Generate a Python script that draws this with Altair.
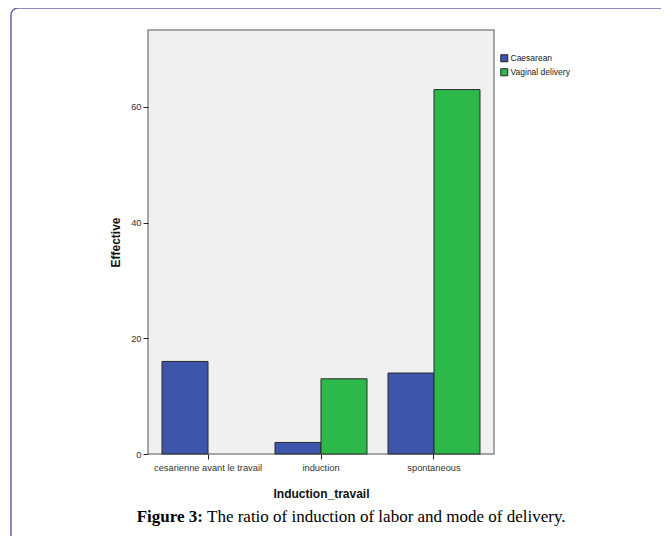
import altair as alt
import pandas as pd

categories = ["cesarienne avant le travail", "induction", "spontaneous"]
series = ["Caesarean", "Vaginal delivery"]
caesarean = [16, 2, 14]
vaginal = [0, 13, 63]
colors = ["#3d56ab", "#2db84a"]

rows = []
for i, c in enumerate(categories):
    rows.append({"cat": c, "mode": series[0], "value": caesarean[i]})
    rows.append({"cat": c, "mode": series[1], "value": vaginal[i]})
df = pd.DataFrame(rows)

W, H = 346, 424
lab = "Liberation Sans, Arial, sans-serif"

bars = alt.Chart(df).transform_filter("datum.value > 0").mark_bar(
    stroke="#2a2a2a", strokeWidth=1, size=46
).encode(
    x=alt.X("cat:N", sort=categories,
            scale=alt.Scale(domain=categories, paddingInner=0.186, paddingOuter=0.124),
            axis=alt.Axis(title="Induction_travail", labelAngle=0, domain=False,
                          tickSize=5, tickColor="#222", labelFont=lab, labelFontSize=9.3,
                          labelColor="#333", labelPadding=4,
                          titleFont="Liberation Sans", titleFontSize=12, titleFontWeight="bold",
                          titleColor="#111", titleY=39, titleBaseline="middle")),
    xOffset=alt.XOffset("mode:N", sort=series,
                        scale=alt.Scale(domain=series, paddingInner=0, paddingOuter=0)),
    y=alt.Y("value:Q", scale=alt.Scale(domain=[0, 73.3], nice=False),
            axis=alt.Axis(title="Effective", values=[0, 20, 40, 60], grid=False, domain=False,
                          tickSize=5, tickColor="#222", labelFont=lab, labelFontSize=9.3,
                          labelColor="#333", labelPadding=2,
                          titleFont="Liberation Sans", titleFontSize=12, titleFontWeight="bold",
                          titleColor="#111", titleX=-33, titleBaseline="middle")),
    color=alt.Color("mode:N", sort=series,
                    scale=alt.Scale(domain=series, range=colors),
                    legend=alt.Legend(title=None, orient="none", legendX=352, legendY=24,
                                      symbolType="square", symbolSize=49,
                                      symbolStrokeColor="#222", symbolStrokeWidth=1,
                                      labelFont=lab, labelFontSize=8.5, labelColor="#222",
                                      rowPadding=2, labelOffset=2)),
)

frame = alt.Chart(pd.DataFrame({"a": [0]})).mark_rect(
    fill=None, stroke="#6b61a8", strokeWidth=1.5, cornerRadius=7
).encode(x=alt.value(-137), x2=alt.value(700), y=alt.value(-22), y2=alt.value(700))

cap1 = alt.Chart(pd.DataFrame({"t": ["Figure 3:"]})).mark_text(
    font="Liberation Serif", fontSize=17, fontWeight="bold", align="right", baseline="middle", color="#000"
).encode(text="t:N", x=alt.value(55), y=alt.value(487))

cap2 = alt.Chart(pd.DataFrame({"t": ["The ratio of induction of labor and mode of delivery."]})).mark_text(
    font="Liberation Serif", fontSize=17, align="left", baseline="middle", color="#000"
).encode(text="t:N", x=alt.value(59), y=alt.value(487))

chart = alt.layer(frame, bars, cap1, cap2).properties(
    width=W, height=H,
    autosize=alt.AutoSizeParams(type="none"),
    padding={"left": 140, "top": 22, "right": 167, "bottom": 82},
    background="white",
).configure_view(fill="#f0f0f0", stroke="#8a8a8a", strokeWidth=1.5)

chart.save("out.html", embed_options={"renderer": "svg", "actions": False})
